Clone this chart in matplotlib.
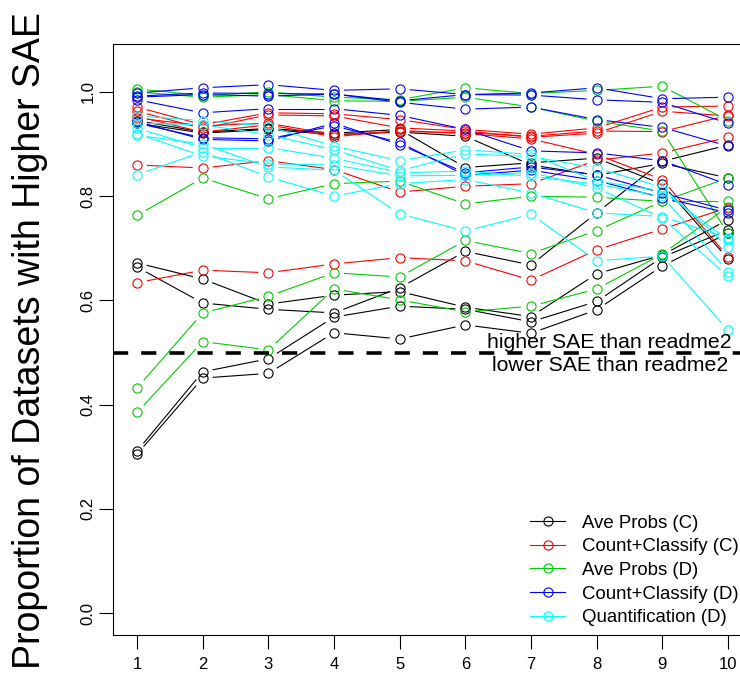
import matplotlib
matplotlib.use("Agg")
import matplotlib.pyplot as plt
from matplotlib.lines import Line2D
import numpy as np

plt.rcParams['font.family'] = ['Liberation Sans', 'DejaVu Sans']

steps = list(range(1, 11))

ave_probs_c = [
    [0.945, 0.923, 0.930, 0.921, 0.928, 0.855, 0.864, 0.873, 0.823, 0.680],
    [0.940, 0.921, 0.928, 0.918, 0.923, 0.915, 0.860, 0.840, 0.863, 0.835],
    [0.672, 0.641, 0.593, 0.610, 0.617, 0.587, 0.569, 0.651, 0.687, 0.755],
    [0.664, 0.595, 0.583, 0.576, 0.624, 0.694, 0.668, 0.768, 0.867, 0.898],
    [0.311, 0.463, 0.488, 0.568, 0.589, 0.583, 0.559, 0.598, 0.683, 0.735],
    [0.305, 0.451, 0.460, 0.538, 0.526, 0.553, 0.537, 0.582, 0.666, 0.729],
]
count_classify_c = [
    [0.971, 0.937, 0.960, 0.958, 0.947, 0.928, 0.919, 0.931, 0.971, 0.973],
    [0.963, 0.930, 0.956, 0.954, 0.931, 0.925, 0.913, 0.921, 0.963, 0.954],
    [0.953, 0.923, 0.937, 0.914, 0.926, 0.920, 0.910, 0.880, 0.832, 0.684],
    [0.950, 0.935, 0.940, 0.918, 0.924, 0.922, 0.915, 0.925, 0.924, 0.955],
    [0.860, 0.854, 0.868, 0.851, 0.808, 0.819, 0.824, 0.869, 0.883, 0.913],
    [0.634, 0.658, 0.653, 0.670, 0.682, 0.676, 0.639, 0.697, 0.737, 0.778],
]
ave_probs_d = [
    [1.006, 0.993, 1.000, 0.990, 0.985, 1.008, 0.997, 1.003, 1.011, 0.945],
    [1.000, 0.990, 0.995, 0.983, 0.982, 0.990, 0.971, 0.944, 0.925, 0.729],
    [0.763, 0.835, 0.795, 0.824, 0.829, 0.785, 0.800, 0.798, 0.790, 0.835],
    [0.432, 0.576, 0.608, 0.653, 0.645, 0.715, 0.690, 0.734, 0.790, 0.790],
    [0.385, 0.521, 0.505, 0.622, 0.601, 0.578, 0.589, 0.622, 0.689, 0.780],
]
count_classify_d = [
    [0.998, 1.008, 1.014, 1.003, 1.006, 0.995, 0.998, 1.008, 0.987, 0.990],
    [0.992, 0.998, 0.997, 0.996, 0.983, 0.995, 0.994, 0.985, 0.980, 0.940],
    [0.990, 0.995, 0.992, 0.996, 0.980, 0.967, 0.971, 0.947, 0.932, 0.896],
    [0.985, 0.960, 0.968, 0.968, 0.955, 0.928, 0.887, 0.883, 0.868, 0.822],
    [0.943, 0.909, 0.906, 0.940, 0.899, 0.845, 0.856, 0.841, 0.806, 0.773],
    [0.940, 0.912, 0.910, 0.935, 0.903, 0.840, 0.850, 0.830, 0.797, 0.768],
]
quantification_d = [
    [0.954, 0.945, 0.934, 0.896, 0.868, 0.889, 0.880, 0.829, 0.810, 0.716],
    [0.940, 0.937, 0.918, 0.889, 0.849, 0.881, 0.876, 0.854, 0.817, 0.703],
    [0.930, 0.893, 0.893, 0.873, 0.845, 0.848, 0.838, 0.823, 0.800, 0.655],
    [0.920, 0.877, 0.862, 0.860, 0.839, 0.840, 0.845, 0.816, 0.758, 0.646],
    [0.841, 0.885, 0.837, 0.800, 0.824, 0.832, 0.806, 0.768, 0.761, 0.720],
    [0.917, 0.900, 0.856, 0.850, 0.766, 0.733, 0.765, 0.676, 0.685, 0.543],
]

labels = ["Ave Probs (C)", "Count+Classify (C)", "Ave Probs (D)",
          "Count+Classify (D)", "Quantification (D)"]
colors = ["black", "#FF0000", "#00CD00", "#0000FF", "#00FFFF"]
groups = [ave_probs_c, count_classify_c, ave_probs_d, count_classify_d, quantification_d]

W, H = 740, 679
fig = plt.figure(figsize=(W / 100, H / 100), dpi=100)
x_left_px, x_right_px = 113.4, 751.6
y_top_px, y_bot_px = 44, 635
ax = fig.add_axes([x_left_px / W, 1 - y_bot_px / H,
                   (x_right_px - x_left_px) / W, (y_bot_px - y_top_px) / H])
ax.set_xlim(0.64, 10.36)
ax.set_ylim(-0.042, 1.092)

LW = 0.8
MS = 6.6
GAP = 10.0


def gapped_series(xs, ys, color):
    pts = ax.transData.transform(np.column_stack([xs, ys]))
    inv = ax.transData.inverted()
    for p0, p1 in zip(pts[:-1], pts[1:]):
        d = p1 - p0
        L = np.hypot(d[0], d[1])
        if L <= 2 * GAP:
            continue
        u = d / L
        a = inv.transform(p0 + u * GAP)
        b = inv.transform(p1 - u * GAP)
        ax.plot([a[0], b[0]], [a[1], b[1]], color=color, lw=LW,
                solid_capstyle='butt')
    ax.plot(xs, ys, ls='none', marker='o', ms=MS, mfc='none', mec=color, mew=LW)


for series_list, col in zip(groups, colors):
    for ys in series_list:
        gapped_series(steps, ys, col)

ax.axhline(0.5, color='black', lw=2.6, dashes=(4.2, 3.6))
ax.text(8.2, 0.5185, "higher SAE than readme2", ha='center', va='center', fontsize=15.3)
ax.text(8.2, 0.476, "lower SAE than readme2", ha='center', va='center', fontsize=15.3)

ax.set_xticks(steps)
ax.set_xticklabels([str(s) for s in steps])
yt = [0.0, 0.2, 0.4, 0.6, 0.8, 1.0]
ax.set_yticks(yt)
ax.set_yticklabels([f"{v:.1f}" for v in yt], rotation=90, va='center')
ax.tick_params(direction='out', length=10, width=0.8, labelsize=12, pad=6)
ax.tick_params(axis='y', pad=3)
for s in ax.spines.values():
    s.set_linewidth(0.8)

fig.text(30 / W, 1 - 341 / H, "Proportion of Datasets with Higher SAE",
         rotation=90, ha='center', va='center', fontsize=27)

handles = [Line2D([], [], color=c, lw=LW, marker='o', ms=MS, mfc='none', mec=c, mew=LW)
           for c in colors]
ax.legend(handles, labels, loc='upper left', bbox_to_anchor=(530 / W, 1 - 514.5 / H),
          bbox_transform=fig.transFigure, frameon=False, fontsize=13.4,
          handlelength=1.9, handletextpad=0.88, labelspacing=0.36, borderpad=0,
          borderaxespad=0)

fig.savefig("out.png", dpi=100)
